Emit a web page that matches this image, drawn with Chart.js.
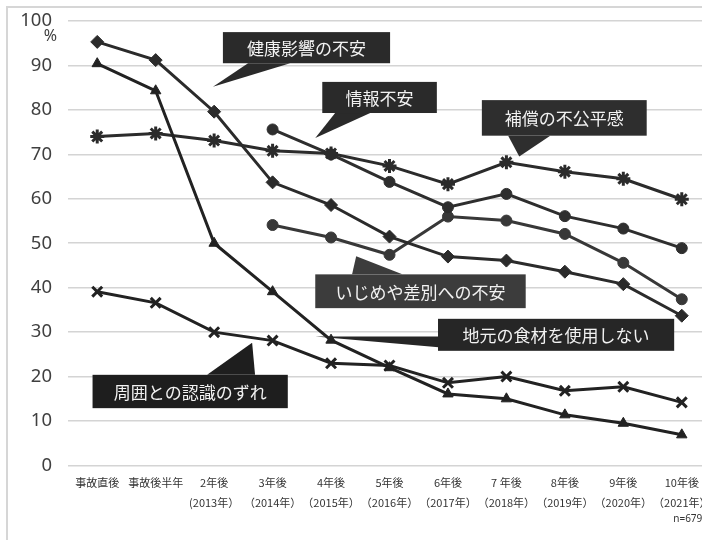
<!DOCTYPE html>
<html lang="ja">
<head>
<meta charset="UTF-8" />
<title>不安の推移</title>
<script src="https://cdn.jsdelivr.net/npm/chart.js"></script>
<style>
  html, body {
    margin: 0;
    padding: 0;
    background: #fff;
    overflow: hidden;
    width: 702px;
    height: 540px;
  }
  #frame {
    position: absolute;
    left: 6px;
    top: 6px;
    width: 730px;
    height: 540px;
    border-left: 2px solid #d6d6d6;
    border-top: 2px solid #d6d6d6;
  }
  #lineChart {
    position: absolute;
    left: 0;
    top: 0;
  }
</style>
</head>
<body>
<div id="frame">
  <canvas id="lineChart" width="713" height="532"></canvas>
</div>

<script>
  // categories
  const periodLabels = ['事故直後', '事故後半年', '2年後', '3年後', '4年後', '5年後', '6年後', '7 年後', '8年後', '9年後', '10年後'];
  const yearLabels = ['', '', '(2013年）', '（2014年）', '（2015年）', '（2016年）', '（2017年）', '（2018年）', '（2019年）', '（2020年）', '（2021年）'];
  const yTicks = [0, 10, 20, 30, 40, 50, 60, 70, 80, 90, 100];

  // series (%)
  const healthAnxiety = [95.3, 91.2, 79.6, 63.7, 58.6, 51.5, 47.0, 46.1, 43.6, 40.8, 33.7];
  const localFood = [90.4, 84.3, 50.0, 39.1, 28.2, 22.0, 16.1, 15.0, 11.4, 9.5, 6.9];
  const perceptionGap = [39.1, 36.6, 30.0, 28.1, 23.0, 22.5, 18.6, 20.0, 16.8, 17.7, 14.2];
  const compensation = [74.0, 74.7, 73.1, 70.8, 70.2, 67.4, 63.3, 68.2, 66.1, 64.5, 59.9];
  const infoAnxiety = [null, null, null, 75.6, 70.0, 63.8, 58.1, 61.1, 56.1, 53.3, 48.9];
  const bullying = [null, null, null, 54.1, 51.3, 47.4, 56.0, 55.1, 52.1, 45.6, 37.4];

  const sampleNote = 'n=679';

  const labels = periodLabels.map((p, i) => yearLabels[i] ? [p, yearLabels[i]] : p);

  // callouts placed in data units (x = category index, y = %)
  const callouts = [
    { text: '健康影響の不安', box: [2.15, 97.5, 5.01, 90.5], ptr: [[2.58, 90.5], [1.98, 85.2], [3.3, 90.5]], color: '#2a2a2a' },
    { text: '情報不安', box: [3.85, 86.3, 5.81, 79.3], ptr: [[4.07, 79.3], [3.73, 73.7], [4.67, 79.3]], color: '#2a2a2a' },
    { text: '補償の不公平感', box: [6.58, 82.2, 9.40, 74.2], ptr: [[7.03, 74.2], [7.22, 69.5], [7.75, 74.2]], color: '#2e2e2e' },
    { text: 'いじめや差別への不安', box: [3.73, 43.0, 7.33, 35.4], ptr: [[4.36, 43.0], [4.43, 47.1], [5.22, 43.0]], color: '#3c3c3c' },
    { text: '地元の食材を使用しない', box: [5.83, 33.0, 9.87, 25.8], ptr: [[3.73, 29.0], [5.84, 29.0], [5.84, 26.6]], color: '#262626' },
    { text: '周囲との認識のずれ', box: [-0.08, 20.4, 3.26, 12.9], ptr: [[1.88, 20.4], [2.65, 27.6], [2.70, 20.4]], color: '#1e1e1e' }
  ];

  const calloutPlugin = {
    id: 'callouts',
    afterDatasetsDraw(chart) {
      const ctx = chart.ctx;
      const xs = chart.scales.x, ys = chart.scales.y;
      const px = v => xs.getPixelForValue(v);
      const py = v => ys.getPixelForValue(v);
      ctx.save();
      callouts.forEach(c => {
        ctx.fillStyle = c.color;
        ctx.beginPath();
        ctx.moveTo(px(c.ptr[0][0]), py(c.ptr[0][1]));
        ctx.lineTo(px(c.ptr[1][0]), py(c.ptr[1][1]));
        ctx.lineTo(px(c.ptr[2][0]), py(c.ptr[2][1]));
        ctx.closePath();
        ctx.fill();
        const x0 = px(c.box[0]), y0 = py(c.box[1]), x1 = px(c.box[2]), y1 = py(c.box[3]);
        ctx.fillRect(x0, y0, x1 - x0, y1 - y0);
        ctx.fillStyle = '#f2f2f2';
        ctx.font = '17px "Noto Sans CJK JP"';
        ctx.textAlign = 'center';
        ctx.textBaseline = 'middle';
        ctx.fillText(c.text, (x0 + x1) / 2, (y0 + y1) / 2 + 1);
      });

      // unit and sample size
      ctx.fillStyle = '#404040';
      ctx.font = '16px "Noto Sans"';
      ctx.textAlign = 'right';
      ctx.textBaseline = 'middle';
      ctx.fillText('%', chart.chartArea.left - 11, py(100) + 15);
      ctx.fillStyle = '#333';
      ctx.font = '10px "Noto Sans"';
      ctx.textAlign = 'center';
      ctx.fillText(sampleNote, px(10) + 6, chart.chartArea.bottom + 54);
      ctx.restore();
    }
  };

  function series(label, data, style, radius, color) {
    return {
      label: label,
      data: data,
      borderColor: color,
      backgroundColor: color,
      borderWidth: 3,
      pointStyle: style,
      pointRadius: radius,
      pointBorderWidth: style === 'star' || style === 'crossRot' ? 3 : 1,
      pointBorderColor: color,
      pointBackgroundColor: color,
      tension: 0,
      fill: false,
      spanGaps: false
    };
  }

  const ctx = document.getElementById('lineChart').getContext('2d');
  new Chart(ctx, {
    type: 'line',
    data: {
      labels: labels,
      datasets: [
        series('健康影響の不安', healthAnxiety, 'rectRot', 6.5, '#2b2b2b'),
        series('地元の食材を使用しない', localFood, 'triangle', 6, '#222222'),
        series('周囲との認識のずれ', perceptionGap, 'crossRot', 7, '#222222'),
        series('補償の不公平感', compensation, 'star', 7, '#2b2b2b'),
        series('情報不安', infoAnxiety, 'circle', 5.5, '#2e2e2e'),
        series('いじめや差別への不安', bullying, 'circle', 5.5, '#383838')
      ]
    },
    options: {
      responsive: false,
      animation: false,
      layout: { padding: { top: 13, right: 2, left: 0, bottom: 0 } },
      plugins: {
        legend: { display: false },
        tooltip: { enabled: false }
      },
      scales: {
        x: {
          offset: true,
          grid: { display: false },
          border: { display: false },
          ticks: {
            color: '#333',
            font: { family: '"Noto Sans CJK JP"', size: 11, lineHeight: 1.75 },
            maxRotation: 0,
            autoSkip: false,
            padding: 0
          },
          afterFit(scale) {
            scale.height = 74.5;
            scale.paddingLeft = 0;
            scale.paddingRight = 0;
          }
        },
        y: {
          min: 0,
          max: 100,
          afterBuildTicks(scale) { scale.ticks = yTicks.map(v => ({ value: v })); },
          grid: { color: '#d4d4d4', lineWidth: 1.6, drawTicks: false },
          border: { display: false },
          ticks: {
            color: '#404040',
            font: { family: '"Noto Sans"', size: 18.5 },
            padding: 16
          },
          afterFit(scale) {
            scale.width = 60;
            scale.paddingTop = 0;
            scale.paddingBottom = 0;
          }
        }
      }
    },
    plugins: [calloutPlugin]
  });
</script>
</body>
</html>
